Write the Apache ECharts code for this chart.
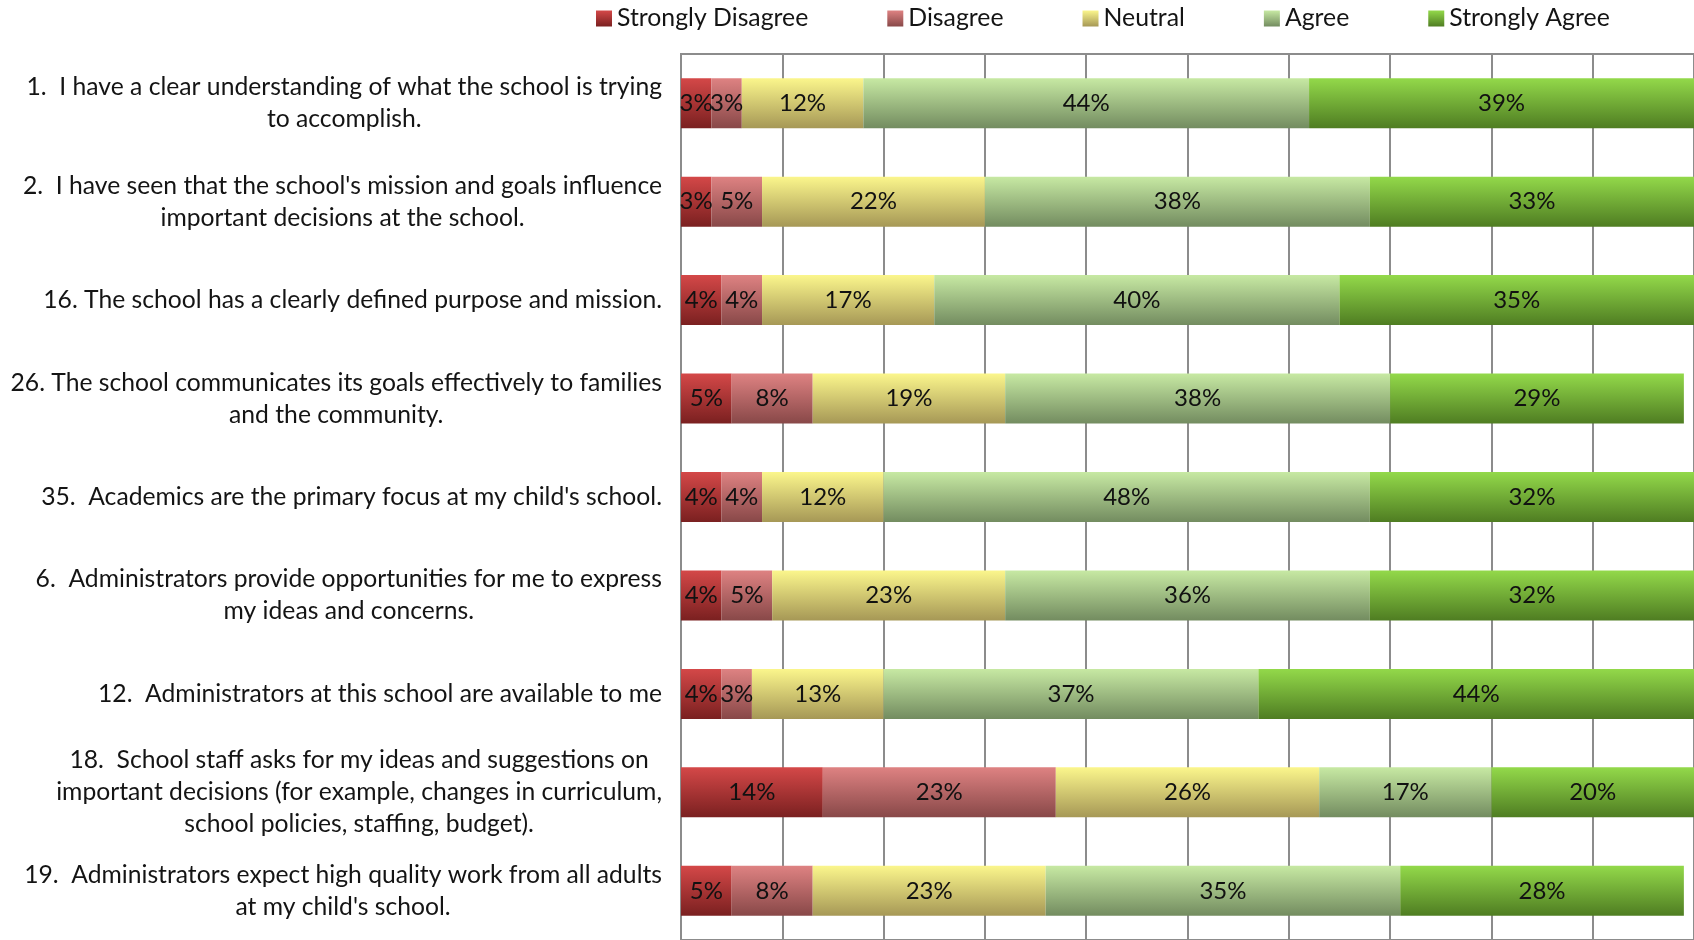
<!DOCTYPE html>
<html>
<head>
<meta charset="utf-8">
<title>School Survey Responses</title>
<script src="https://cdn.jsdelivr.net/npm/echarts@6/dist/echarts.min.js"></script>
<style>
  html, body { margin: 0; padding: 0; background: #ffffff; }
  #chart { width: 1694px; height: 940px; }
</style>
</head>
<body>
<div id="chart"></div>
<script>
// Survey statements (explicit line breaks keep the wrapping of each label)
const questions = [
  "1.  I have a clear understanding of what the school is trying\nto accomplish.",
  "2.  I have seen that the school's mission and goals influence\nimportant decisions at the school.",
  "16. The school has a clearly defined purpose and mission.",
  "26. The school communicates its goals effectively to families\nand the community.",
  "35.  Academics are the primary focus at my child's school.",
  "6.  Administrators provide opportunities for me to express\nmy ideas and concerns.",
  "12.  Administrators at this school are available to me",
  "18.  School staff asks for my ideas and suggestions on\nimportant decisions (for example, changes in curriculum,\nschool policies, staffing, budget).",
  "19.  Administrators expect high quality work from all adults\nat my child's school."
];

const responseLevels = ["Strongly Disagree", "Disagree", "Neutral", "Agree", "Strongly Agree"];

// Percent of respondents per statement, in the order of `questions`
const stronglyDisagree = [3, 3, 4, 5, 4, 4, 4, 14, 5];
const disagree         = [3, 5, 4, 8, 4, 5, 3, 23, 8];
const neutral          = [12, 22, 17, 19, 12, 23, 13, 26, 23];
const agree            = [44, 38, 40, 38, 48, 36, 37, 17, 35];
const stronglyAgree    = [39, 33, 35, 29, 32, 32, 44, 20, 28];

const seriesValues = [stronglyDisagree, disagree, neutral, agree, stronglyAgree];

// Vertical gradient per response level: light at the top, dark at the bottom
const gradientStops = [
  ["#d44848", "#7a2020"],
  ["#de8282", "#884848"],
  ["#fbf68c", "#a69856"],
  ["#c7e9a3", "#738c60"],
  ["#93d94a", "#4f7d22"]
];

function gradient(pair) {
  return new echarts.graphic.LinearGradient(0, 0, 0, 1, [
    { offset: 0, color: pair[0] },
    { offset: 1, color: pair[1] }
  ]);
}

const FONT = "Lato";
const GRID_COLOR = "#8c8c8c";
const TEXT_COLOR = "#141414";
const LABEL_SIZE = 24.7;

const chart = echarts.init(document.getElementById("chart"), null, { renderer: "canvas" });

const option = {
  backgroundColor: "#ffffff",
  animation: false,
  textStyle: { fontFamily: FONT },
  legend: {
    data: responseLevels,
    left: 591,
    top: 1,
    itemWidth: 16,
    itemHeight: 16,
    itemGap: 79,
    icon: "rect",
    textStyle: { fontFamily: FONT, fontSize: 24.8, color: TEXT_COLOR }
  },
  grid: {
    left: 681,
    top: 54,
    width: 1020,
    height: 889,
    show: true,
    borderColor: GRID_COLOR,
    borderWidth: 2,
    backgroundColor: "transparent"
  },
  xAxis: {
    type: "value",
    min: 0,
    max: 100,
    interval: 10,
    axisLabel: { show: false },
    axisLine: { show: false },
    axisTick: { show: false },
    splitLine: { show: true, lineStyle: { color: GRID_COLOR, width: 2 } }
  },
  yAxis: {
    type: "category",
    inverse: true,
    data: questions,
    axisLine: { show: true, lineStyle: { color: GRID_COLOR, width: 2 } },
    axisTick: { show: false },
    axisLabel: {
      margin: 19,
      align: "right",
      fontFamily: FONT,
      fontSize: LABEL_SIZE,
      lineHeight: 32,
      color: TEXT_COLOR,
      formatter: function (value) {
        return value.split("\n").map(function (line) { return "{c|" + line + "}"; }).join("\n");
      },
      rich: {
        c: { align: "center", fontFamily: FONT, fontSize: LABEL_SIZE, lineHeight: 32, color: TEXT_COLOR }
      }
    }
  },
  series: responseLevels.map(function (name, i) {
    return {
      name: name,
      type: "bar",
      stack: "responses",
      barWidth: 50,
      data: seriesValues[i],
      itemStyle: { color: gradient(gradientStops[i]) },
      label: {
        show: true,
        position: "inside",
        formatter: "{c}%",
        fontFamily: FONT,
        fontSize: 24,
        color: "#111111"
      },
      emphasis: { disabled: true }
    };
  })
};

chart.setOption(option);
</script>
</body>
</html>
